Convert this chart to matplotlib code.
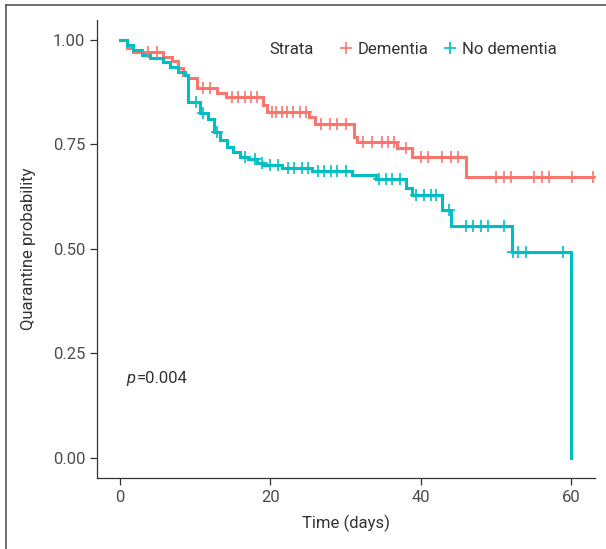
import numpy as np
import matplotlib
matplotlib.use('Agg')
import matplotlib.pyplot as plt
from matplotlib.lines import Line2D

plt.rcParams['font.family'] = ['Roboto', 'DejaVu Sans']

# Kaplan-Meier steps (time in days, survival after the step)
dem_times = [0, 1.0, 1.8, 5.7, 6.9, 7.7, 8.4, 9.0, 10.2, 12.9, 14.1, 19.0, 19.6,
             25.2, 25.9, 31.2, 31.6, 36.8, 38.9, 46.1]
dem_surv = [1.0, 0.981, 0.972, 0.96, 0.95, 0.932, 0.916, 0.908, 0.885, 0.873, 0.863,
            0.845, 0.828, 0.816, 0.80, 0.768, 0.756, 0.741, 0.72, 0.673]
dem_censor = [3.8, 4.9, 11.0, 12.0, 14.9, 15.7, 16.6, 17.5, 18.2, 20.2, 20.8, 21.5,
              22.2, 23.0, 23.9, 24.8, 26.8, 27.9, 28.9, 30.1, 32.3, 33.6, 34.8, 35.6,
              36.5, 38.1, 40.1, 41.0, 42.9, 44.1, 45.0, 50.0, 51.1, 52.0, 55.1, 56.2,
              57.1, 60.1, 63.0]
dem_end = 63.0

nd_times = [0, 1.0, 1.8, 3.0, 4.0, 5.7, 6.6, 7.7, 8.6, 9.0, 10.6, 11.7, 12.5, 13.3,
            14.3, 15.0, 16.0, 17.0, 18.2, 19.0, 21.6, 25.6, 30.9, 34.1, 38.1, 38.9,
            42.9, 44.1, 52.1, 60.0]
nd_surv = [1.0, 0.988, 0.976, 0.964, 0.957, 0.947, 0.935, 0.923, 0.916, 0.852, 0.825,
           0.812, 0.78, 0.76, 0.745, 0.733, 0.72, 0.714, 0.706, 0.70, 0.693, 0.687,
           0.677, 0.667, 0.645, 0.629, 0.593, 0.555, 0.493, 0.0]
nd_censor = [10.1, 11.1, 12.9, 16.7, 18.0, 18.9, 19.9, 21.0, 22.3, 23.2, 24.2, 25.0,
             26.3, 27.2, 28.1, 28.9, 30.1, 34.5, 35.4, 36.2, 37.2, 39.4, 40.5, 41.4,
             42.1, 43.8, 46.1, 47.0, 48.1, 49.0, 51.1, 52.3, 53.0, 54.0, 58.9]
nd_end = 60.0

strata = ['Dementia', 'No dementia']
colors = ['#F8766D', '#00BFC4']
x_ticks = [0, 20, 40, 60]
y_ticks = [0.0, 0.25, 0.50, 0.75, 1.0]
p_text = '=0.004'


def surv_at(times, surv, t):
    idx = np.searchsorted(times, t, side='right') - 1
    return np.asarray(surv)[idx]


fig = plt.figure(figsize=(6.06, 5.49), dpi=100)
ax = fig.add_axes([97 / 606, 71 / 549, 498 / 606, 458 / 549])

curves = [(dem_times, dem_surv, dem_censor, dem_end),
          (nd_times, nd_surv, nd_censor, nd_end)]
for (times, surv, cens, end), col in zip(curves, colors):
    xs = list(times) + [end]
    ys = list(surv) + [surv[-1]]
    ax.step(xs, ys, where='post', color=col, lw=2.2, solid_joinstyle='miter', zorder=3)
    ax.plot(cens, surv_at(times, surv, cens), ls='none', marker='+', ms=8,
            mew=1.2, color=col, zorder=4)

ax.set_xlim(-3.05, 63.2)
ax.set_ylim(-0.049, 1.048)
ax.set_xticks(x_ticks)
ax.set_yticks(y_ticks)
ax.set_yticklabels([f'{v:.2f}' for v in y_ticks])
for s in ['top', 'right']:
    ax.spines[s].set_visible(False)
for s in ['left', 'bottom']:
    ax.spines[s].set_color('#333333')
    ax.spines[s].set_linewidth(0.9)
ax.tick_params(colors='#333333', labelcolor='#4d4d4d', labelsize=12, length=5, width=0.9)
ax.set_xlabel('Time (days)', fontsize=12, color='#333333', labelpad=7)
ax.set_ylabel('Quarantine probability', fontsize=12, color='#333333', labelpad=12)

ax.text(0.9, 0.19, 'p', style='italic', fontsize=12, color='#333333',
        va='center', ha='left')
ax.text(2.2, 0.19, p_text, fontsize=12, color='#333333', va='center', ha='left')

# legend
ax.text(0.347, 0.935, 'Strata', transform=ax.transAxes, fontsize=12,
        color='#333333', va='center', ha='left')
handles = [Line2D([], [], ls='none', marker='+', ms=8, mew=1.2, color=c) for c in colors]
ax.legend(handles, strata, loc='center left', bbox_to_anchor=(0.473, 0.935), ncol=2,
          frameon=False, fontsize=12, handlelength=0.6, handletextpad=0.4,
          columnspacing=1.0, borderpad=0, labelcolor='#333333')

# outer frame (cropped at right and bottom)
fig.add_artist(Line2D([6 / 606, 1], [1 - 5 / 549, 1 - 5 / 549], color='#555555', lw=1.2))
fig.add_artist(Line2D([6 / 606, 6 / 606], [0, 1 - 5 / 549], color='#555555', lw=1.2))

fig.savefig('out.png', dpi=100)
